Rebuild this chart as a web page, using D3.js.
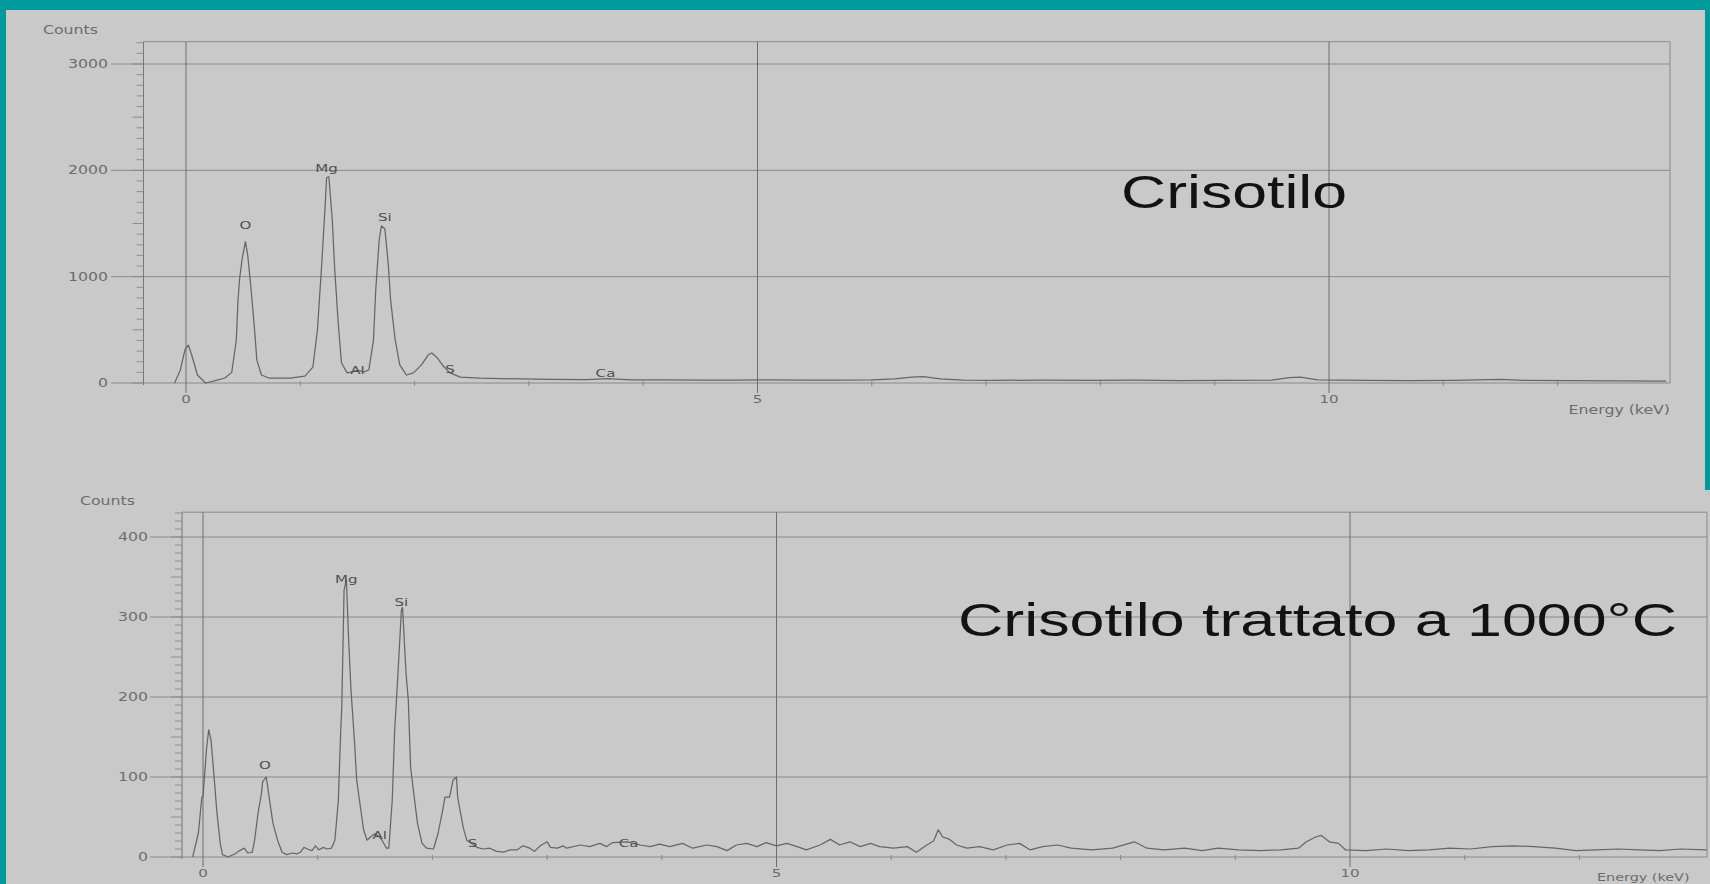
<!DOCTYPE html>
<html>
<head>
<meta charset="utf-8">
<script src="https://cdn.jsdelivr.net/npm/d3@7"></script>
<style>
  body { margin: 0; background: #c9c9c9; overflow: hidden; }
</style>
</head>
<body>
<div id="chart"></div>
<script>
// ---- data ----
var crisotiloEnergy = [-0.10,-0.05,-0.01,0.02,0.05,0.10,0.17,0.25,0.34,0.40,0.44,0.455,0.47,0.49,0.52,0.54,0.57,0.60,0.62,0.66,
  0.73,0.91,1.04,1.11,1.15,1.19,1.22,1.23,1.25,1.28,1.30,1.33,1.36,1.41,1.45,1.50,1.56,1.60,1.64,1.66,
  1.69,1.71,1.74,1.77,1.79,1.83,1.87,1.93,1.99,2.06,2.12,2.15,2.20,2.25,2.31,2.40,2.57,2.92,3.2,3.5,
  3.69,3.9,4.2,4.5,4.8,5.1,5.4,5.7,6.0,6.2,6.35,6.45,6.6,6.8,7.1,7.5,7.9,8.3,8.7,9.1,
  9.5,9.65,9.75,9.9,10.3,10.7,11.1,11.5,11.7,12.1,12.5,12.95];
var crisotiloCounts = [0,120,310,357,263,75,0,20,47,100,400,780,990,1160,1330,1200,875,500,215,75,
  45,45,65,150,500,1160,1720,1930,1940,1530,1090,590,190,95,105,120,105,125,400,875,
  1345,1477,1450,1110,780,405,170,75,95,170,265,282,235,160,95,55,45,38,35,32,
  42,30,30,28,27,30,26,28,30,38,55,60,38,28,25,27,24,26,23,25,
  28,50,55,30,24,22,25,35,25,22,20,18];

var trattatoEnergy = [-0.09,-0.04,-0.01,0.00,0.03,0.05,0.07,0.09,0.12,0.15,0.17,0.22,0.28,0.32,0.36,0.39,0.43,0.45,0.48,0.51,
  0.52,0.55,0.56,0.58,0.61,0.65,0.69,0.73,0.78,0.82,0.85,0.88,0.91,0.95,0.98,1.01,1.05,1.08,1.12,1.15,
  1.18,1.20,1.21,1.23,1.25,1.27,1.29,1.32,1.34,1.37,1.40,1.43,1.46,1.50,1.53,1.56,1.60,1.62,1.65,1.67,
  1.70,1.73,1.74,1.77,1.79,1.81,1.85,1.87,1.91,1.95,2.01,2.05,2.09,2.11,2.15,2.18,2.21,2.22,2.24,2.27,
  2.30,2.35,2.39,2.44,2.50,2.56,2.62,2.68,2.74,2.79,2.85,2.89,2.94,3.00,3.03,3.09,3.14,3.17,3.29,3.37,
  3.46,3.52,3.57,3.70,3.81,3.90,3.98,4.07,4.18,4.27,4.39,4.48,4.57,4.65,4.74,4.83,4.91,5.00,5.09,5.18,
  5.26,5.38,5.47,5.55,5.64,5.73,5.82,5.90,6.02,6.14,6.22,6.31,6.37,6.41,6.45,6.51,6.57,6.66,6.77,6.89,
  7.01,7.12,7.21,7.32,7.45,7.57,7.75,7.93,8.12,8.23,8.38,8.56,8.71,8.85,9.03,9.22,9.40,9.55,9.62,9.70,
  9.75,9.82,9.90,9.96,10.14,10.32,10.51,10.69,10.87,11.05,11.24,11.42,11.60,11.79,11.97,12.15,12.34,12.52,12.70,12.88,13.11];
var trattatoCounts = [0,30,75,75,134,159,146,112,58,17,3,0,4,8,11,5,6,21,55,80,
  94,100,92,71,42,21,6,3,5,4,6,12,10,8,14,9,12,10,11,21,
  71,155,188,334,346,271,209,146,96,65,34,21,25,29,26,21,11,11,71,155,
  230,309,312,230,196,112,65,42,17,11,10,30,59,75,75,96,100,75,59,36,
  21,16,12,10,11,7,6,9,9,14,11,7,14,19,12,11,14,11,15,13,
  17,13,18,19,15,13,16,13,17,11,15,13,8,15,17,13,18,14,17,13,
  9,15,22,15,19,13,17,13,11,13,6,15,20,34,25,22,15,11,13,9,
  15,17,9,13,15,11,9,11,19,11,9,11,8,11,9,8,9,11,19,25,
  27,19,17,9,8,10,8,9,11,10,13,14,13,11,8,9,10,9,8,10,9];

// element markers: name, energy (keV), count level of the label
var crisotiloPeakNames  = ["O","Mg","Al","Si","S","Ca"];
var crisotiloPeakEnergy = [0.52,1.23,1.50,1.74,2.31,3.67];
var crisotiloPeakLevel  = [1450,1980,80,1520,90,55];

var trattatoPeakNames  = ["O","Mg","Al","Si","S","Ca"];
var trattatoPeakEnergy = [0.54,1.25,1.54,1.73,2.35,3.71];
var trattatoPeakLevel  = [110,343,22,314,12,13];

var energyTicks = [0,5,10];
var energyMinor = [1,2,3,4,6,7,8,9,11,12];
var crisotiloCountTicks = [0,1000,2000,3000];
var trattatoCountTicks  = [0,100,200,300,400];

var titles = ["Crisotilo","Crisotilo trattato a 1000°C"];

// ---- page ----
var W = 1710, H = 884, STRETCH = 1.37;
var svg = d3.select("#chart").append("svg")
  .attr("width", W).attr("height", H);

svg.append("rect").attr("width", W).attr("height", H).attr("fill", "#c9c9c9");

function label(g, x, y, str, size, fill, anchor, family) {
  return g.append("text")
    .attr("transform", "translate(" + x + "," + y + ") scale(" + STRETCH + ",1)")
    .attr("text-anchor", anchor || "start")
    .attr("font-family", family || "DejaVu Sans, sans-serif")
    .attr("font-size", size)
    .attr("fill", fill)
    .text(str);
}

function drawPanel(p) {
  var g = svg.append("g");
  var x = d3.scaleLinear().domain([0, 10]).range(p.xRange);
  var y = d3.scaleLinear().domain(p.yDomain).range(p.yRange);
  var top = y(p.yMax), base = y(0);
  var grid = "#8a8a8a";

  // horizontal grid lines + x axis line
  p.yTicks.forEach(function(t) {
    g.append("line")
      .attr("x1", p.gridLeft).attr("x2", p.right)
      .attr("y1", y(t)).attr("y2", y(t))
      .attr("stroke", grid).attr("stroke-width", 1);
    label(g, p.tickRight, y(t) + 4, t, 11.5, "#6c6c6c", "end");
  });

  // frame
  g.append("line").attr("x1", p.left).attr("x2", p.right).attr("y1", top).attr("y2", top)
    .attr("stroke", grid);
  g.append("line").attr("x1", p.right).attr("x2", p.right).attr("y1", top).attr("y2", base)
    .attr("stroke", grid);
  g.append("line").attr("x1", p.left).attr("x2", p.left).attr("y1", top).attr("y2", base + 2)
    .attr("stroke", "#777");

  // minor ticks on count axis
  d3.range(0, p.yMax, p.minorStep).forEach(function(t) {
    var long = (t % p.longStep === 0);
    g.append("line")
      .attr("x1", p.left - (long ? 11 : 7)).attr("x2", p.left)
      .attr("y1", y(t)).attr("y2", y(t))
      .attr("stroke", "#888").attr("stroke-width", 0.9);
  });

  // energy marker lines 0,5,10
  energyTicks.forEach(function(e) {
    g.append("line")
      .attr("x1", x(e)).attr("x2", x(e))
      .attr("y1", top).attr("y2", base + 10)
      .attr("stroke", "#6e6e6e").attr("stroke-width", 1);
    label(g, x(e), base + 20, e, 11, "#6c6c6c", "middle");
  });
  energyMinor.forEach(function(e) {
    if (x(e) > p.right) return;
    g.append("line")
      .attr("x1", x(e)).attr("x2", x(e))
      .attr("y1", base - 2).attr("y2", base + 3)
      .attr("stroke", "#888");
  });

  // spectrum
  var pts = p.energy.map(function(e, i) { return [e, p.counts[i]]; });
  var line = d3.line()
    .x(function(d) { return x(d[0]); })
    .y(function(d) { return y(d[1]); });
  g.append("path")
    .attr("d", line(pts))
    .attr("fill", "none")
    .attr("stroke", "#666")
    .attr("stroke-width", 1.25)
    .attr("stroke-linejoin", "round");

  // element labels
  p.peakNames.forEach(function(n, i) {
    label(g, x(p.peakEnergy[i]), y(p.peakLevel[i]), n, 11, "#505050", "middle");
  });

  // axis titles
  label(g, p.countsX, p.countsY, "Counts", 11.5, "#6c6c6c", "start");
  label(g, p.energyX, p.energyY, "Energy (keV)", p.energySize, "#6c6c6c", p.energyAnchor);

  // big title, stretched to the width it has in the photo
  g.append("text")
    .attr("x", p.titleX).attr("y", p.titleY)
    .attr("font-family", "Liberation Sans, Arial, sans-serif")
    .attr("font-size", 46)
    .attr("fill", "#121212")
    .attr("textLength", p.titleWidth)
    .attr("lengthAdjust", "spacingAndGlyphs")
    .text(p.title);
}

drawPanel({
  energy: crisotiloEnergy, counts: crisotiloCounts,
  peakNames: crisotiloPeakNames, peakEnergy: crisotiloPeakEnergy, peakLevel: crisotiloPeakLevel,
  yTicks: crisotiloCountTicks, yDomain: [0, 3000], yMax: 3210,
  xRange: [186, 1329], yRange: [383, 64],
  left: 143.5, right: 1670, gridLeft: 111, tickRight: 108,
  minorStep: 100, longStep: 500,
  countsX: 43, countsY: 34, energyX: 1670, energyY: 414, energyAnchor: "end", energySize: 11.5,
  title: titles[0], titleX: 1121, titleY: 208, titleWidth: 226
});

drawPanel({
  energy: trattatoEnergy, counts: trattatoCounts,
  peakNames: trattatoPeakNames, peakEnergy: trattatoPeakEnergy, peakLevel: trattatoPeakLevel,
  yTicks: trattatoCountTicks, yDomain: [0, 400], yMax: 431,
  xRange: [203, 1350], yRange: [857, 537],
  left: 182, right: 1707, gridLeft: 150, tickRight: 148,
  minorStep: 10, longStep: 50,
  countsX: 80, countsY: 505, energyX: 1597, energyY: 881, energyAnchor: "start", energySize: 10.5,
  title: titles[1], titleX: 958, titleY: 636, titleWidth: 719
});

// teal slide border
svg.append("rect").attr("x", 0).attr("y", 0).attr("width", W).attr("height", 10).attr("fill", "#009a9b");
svg.append("rect").attr("x", 0).attr("y", 0).attr("width", 6).attr("height", H).attr("fill", "#009a9b");
svg.append("rect").attr("x", 1705).attr("y", 0).attr("width", 5).attr("height", 490).attr("fill", "#009a9b");
</script>
</body>
</html>
